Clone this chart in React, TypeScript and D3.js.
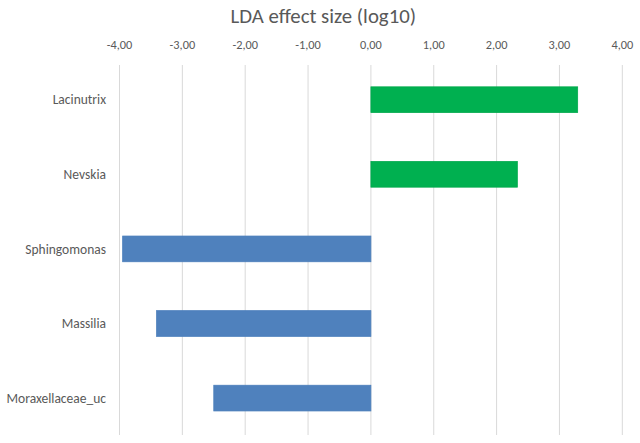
import React from "react";
import * as d3 from "d3";

const categories = ["Lacinutrix", "Nevskia", "Sphingomonas", "Massilia", "Moraxellaceae_uc"];
const values = [3.29, 2.33, -3.95, -3.41, -2.5];
const tickValues = [-4, -3, -2, -1, 0, 1, 2, 3, 4];
const title = "LDA effect size (log10)";

const W = 640;
const H = 443;

export default function App() {
  const x = d3.scaleLinear().domain([-4, 4]).range([119.5, 622.3]);
  const y = d3.scaleBand<string>().domain(categories).range([62.4, 435.4]).paddingInner(0.655).paddingOuter(0.3275);
  const fmt = (v: number) => v.toFixed(2).replace(".", ",");
  const font = "Carlito, Calibri, 'Open Sans', sans-serif";
  return (
    <svg width={W} height={H} style={{ position: "absolute", left: 0, top: 0, background: "#fff" }} fontFamily={font}>
      <rect x={0} y={0} width={W} height={H} fill="#fff" />
      <text x={323.3} y={22.7} textAnchor="middle" fontSize={20.8} fill="#595959">
        {title}
      </text>
      {tickValues.map((t) => (
        <g key={t}>
          <line x1={x(t)} x2={x(t)} y1={65} y2={435} stroke="#D9D9D9" strokeWidth={1} />
          <text x={x(t)} y={49.3} textAnchor="middle" fontSize={12.3} fill="#595959">
            {fmt(t)}
          </text>
        </g>
      ))}
      {categories.map((c, i) => {
        const v = values[i];
        const x0 = x(Math.min(0, v));
        const x1 = x(Math.max(0, v));
        return (
          <g key={c}>
            <rect
              x={x0}
              y={y(c)!}
              width={x1 - x0}
              height={y.bandwidth()}
              fill={v >= 0 ? "#00B050" : "#4F81BD"}
              stroke={v >= 0 ? "#00A84C" : "#4A7EBB"}
              strokeWidth={0.75}
            />
            <text
              x={106}
              y={y(c)! + y.bandwidth() / 2}
              dy="0.35em"
              textAnchor="end"
              fontSize={13.5}
              fill="#595959"
            >
              {c}
            </text>
          </g>
        );
      })}
    </svg>
  );
}
